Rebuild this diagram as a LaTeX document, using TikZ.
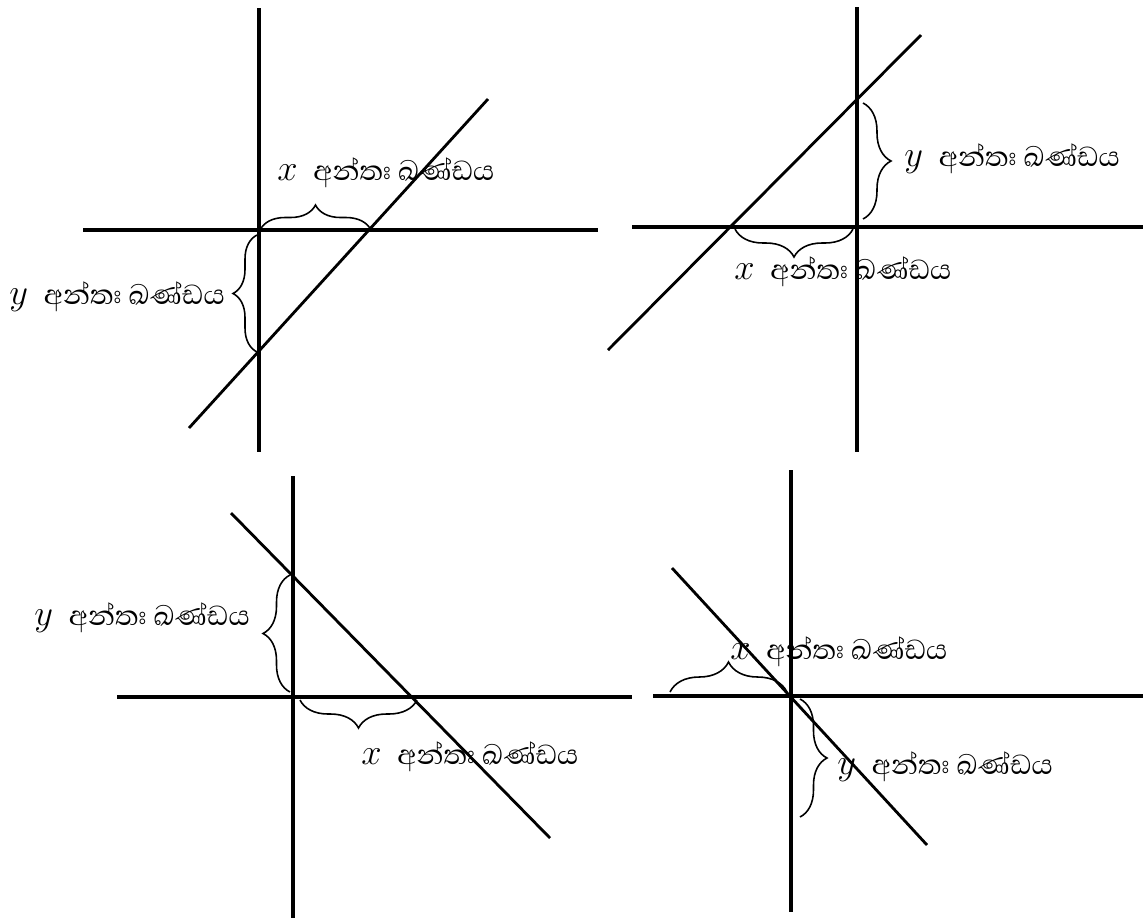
\documentclass[tikz,border=0pt]{standalone}
\usepackage{fontspec}
\setmainfont{Liberation Serif}
\newfontfamily\sinhfont[Script=Sinhala]{Abhaya Libre}
\usetikzlibrary{decorations.pathreplacing}
\tikzset{
  axis/.style={line width=1.8pt},
  graphline/.style={line width=1.6pt},
  br/.style={decorate,line width=0.9pt,decoration={brace,amplitude=#1}},
  lbl/.style={anchor=west,inner sep=0pt,font=\fontsize{20}{24}\selectfont}
}
\newcommand{\xlbl}{$x$\hspace{0.45em}{\sinhfont අන්තඃ ඛණ්ඩය}}
\newcommand{\ylbl}{$y$\hspace{0.45em}{\sinhfont අන්තඃ ඛණ්ඩය}}
\begin{document}
\begin{tikzpicture}[x=0.02cm,y=-0.02cm]
\useasboundingbox (0,0) rectangle (1143,921);
% ---------- panel 1
\coordinate (a1t) at (259,8);   \coordinate (a1b) at (259,452);
\coordinate (a1l) at (83,230);  \coordinate (a1r) at (598,230);
\coordinate (l1a) at (189,428); \coordinate (l1b) at (488,99);
\draw[axis] (a1t) -- (a1b); \draw[axis] (a1l) -- (a1r);
\draw[graphline] (l1a) -- (l1b);
\coordinate (b1xa) at (260,230); \coordinate (b1xb) at (371,230);
\draw[br=0.5cm] (b1xa) -- (b1xb);
\coordinate (b1ya) at (257,352); \coordinate (b1yb) at (257,235);
\draw[br=0.48cm] (b1ya) -- (b1yb);
\node[lbl] (t1x) at (277,173) {\xlbl};
\node[lbl] (t1y) at (9,297) {\ylbl};
% ---------- panel 2
\coordinate (a2t) at (857,7);   \coordinate (a2b) at (857,452);
\coordinate (a2l) at (632,227); \coordinate (a2r) at (1143,227);
\coordinate (l2a) at (608,350); \coordinate (l2b) at (921,35);
\draw[axis] (a2t) -- (a2b); \draw[axis] (a2l) -- (a2r);
\draw[graphline] (l2a) -- (l2b);
\coordinate (b2ya) at (863,103); \coordinate (b2yb) at (863,219);
\draw[br=0.56cm] (b2ya) -- (b2yb);
\coordinate (b2xa) at (853,229); \coordinate (b2xb) at (735,229);
\draw[br=0.56cm] (b2xa) -- (b2xb);
\node[lbl] (t2y) at (904,159) {\ylbl};
\node[lbl] (t2x) at (734,272) {\xlbl};
% ---------- panel 3
\coordinate (a3t) at (293,476); \coordinate (a3b) at (293,918);
\coordinate (a3l) at (117,697); \coordinate (a3r) at (632,697);
\coordinate (l3a) at (231,513); \coordinate (l3b) at (550,838);
\draw[axis] (a3t) -- (a3b); \draw[axis] (a3l) -- (a3r);
\draw[graphline] (l3a) -- (l3b);
\coordinate (b3ya) at (290,692); \coordinate (b3yb) at (290,575);
\draw[br=0.54cm] (b3ya) -- (b3yb);
\coordinate (b3xa) at (417,700); \coordinate (b3xb) at (300,700);
\draw[br=0.56cm] (b3xa) -- (b3xb);
\node[lbl] (t3y) at (34,618) {\ylbl};
\node[lbl] (t3x) at (361,757) {\xlbl};
% ---------- panel 4
\coordinate (a4t) at (791,470); \coordinate (a4b) at (791,912);
\coordinate (a4l) at (653,696); \coordinate (a4r) at (1143,696);
\coordinate (l4a) at (672,568); \coordinate (l4b) at (927,845);
\draw[axis] (a4t) -- (a4b); \draw[axis] (a4l) -- (a4r);
\draw[graphline] (l4a) -- (l4b);
\coordinate (b4xa) at (670,692); \coordinate (b4xb) at (787,692);
\draw[br=0.6cm] (b4xa) -- (b4xb);
\coordinate (b4ya) at (800,699); \coordinate (b4yb) at (800,817);
\draw[br=0.54cm] (b4ya) -- (b4yb);
\node[lbl] (t4x) at (730,652) {\xlbl};
\node[lbl] (t4y) at (837,767) {\ylbl};
\end{tikzpicture}
\end{document}
